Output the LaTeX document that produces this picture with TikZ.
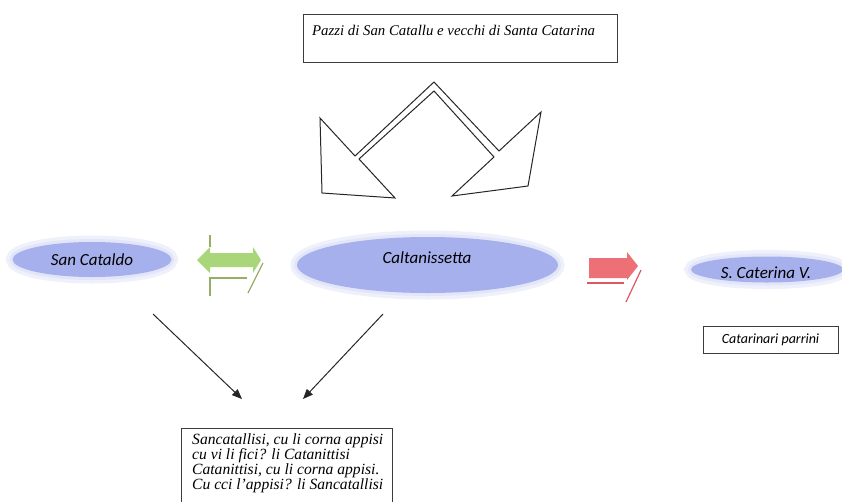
\documentclass[tikz,border=0pt]{standalone}
\usepackage{fontspec}
\setmainfont{Liberation Serif}
\newfontfamily\calibri{Carlito}
\usetikzlibrary{shapes.geometric,arrows.meta}
\definecolor{lav}{RGB}{166,176,236}
\definecolor{glowA}{RGB}{238,240,251}
\definecolor{glowB}{RGB}{226,230,248}
\definecolor{grnfill}{RGB}{170,214,122}
\definecolor{grnline}{RGB}{150,175,100}
\definecolor{redfill}{RGB}{236,112,118}
\definecolor{redline}{RGB}{222,86,96}
\definecolor{boxline}{RGB}{60,60,60}
\tikzset{
  city/.style={ellipse, fill=lav, inner sep=0pt,
    preaction={draw=glowA, line width=13pt},
    preaction={draw=glowB, line width=6pt}},
  citytext/.style={anchor=base, inner sep=0pt, font=\calibri\itshape\fontsize{17}{20}\selectfont},
  framebox/.style={draw=boxline, line width=0.9pt, inner sep=0pt},
  serif/.style={font=\itshape\fontsize{14.8}{14}\selectfont, inner sep=0pt, align=left},
  poemfont/.style={font=\itshape\fontsize{15.6}{14.6}\selectfont, inner sep=0pt},
  blackarrow/.style={draw=black!85, line width=1pt, -{Triangle[length=10pt,width=8pt]}},
}
\begin{document}
\begin{tikzpicture}[x=1pt,y=-1pt]
\useasboundingbox (0,0) rectangle (842,501);
\clip (0,0) rectangle (842,501);

% top box
\node[framebox, anchor=north west, minimum width=314pt, minimum height=48pt] (topbox) at (303,14) {};
\node[serif, anchor=base west] (toptext) at (312,35) {Pazzi di San Catallu e vecchi di Santa Catarina};

% bent double arrow
\draw[line width=1pt, black!85, fill=white, line join=miter]
  (395,198) -- (359,159) -- (434,91) -- (494,157) -- (452,196) -- (528,186)
  -- (541,112) -- (499,151) -- (434,82) -- (355,156) -- (320,118) -- (322,193) -- cycle;

% city ellipses
\node[city, minimum width=159pt, minimum height=35pt] (sc) at (92,259.5) {};
\node[citytext] (sctext) at (92,265) {San Cataldo};
\node[city, minimum width=261pt, minimum height=56pt] (cl) at (427.5,265) {};
\node[citytext] (cltext) at (427,263) {Caltanissetta};
\node[city, minimum width=152pt, minimum height=26pt] (scv) at (767,269.5) {};
\node[citytext] (scvtext) at (766,278) {S. Caterina V.};

% green double arrow
\fill[grnfill] (197,260) -- (210,247) -- (210,253) -- (253,253) -- (253,247) -- (261,260)
  -- (253,273) -- (253,267) -- (210,267) -- (210,273) -- cycle;
\draw[grnline, line width=1.2pt] (210,235) -- (210,247);
\draw[grnline, line width=1.2pt] (210,296) -- (210,278) -- (247,278);
\draw[grnline, line width=1.2pt] (263,263) -- (248,293);

% red arrow
\fill[redfill] (589,258) -- (627,258) -- (627,252) -- (638,266) -- (627,280) -- (627,278) -- (589,278) -- cycle;
\draw[redline, line width=1.2pt] (587,283) -- (624,283);
\draw[redline, line width=1.2pt] (641,270) -- (626,302);

% Catarinari parrini
\node[framebox, minimum width=135pt, minimum height=27pt, font=\calibri\itshape\fontsize{14}{16}\selectfont] (cp) at (770.5,339.5) {Catarinari parrini};

% black arrows
\coordinate (a1s) at (153,314);
\coordinate (a1e) at (242,399);
\coordinate (a2s) at (383,314);
\coordinate (a2e) at (303,399);
\draw[blackarrow] (a1s) -- (a1e);
\draw[blackarrow] (a2s) -- (a2e);

% bottom box
\node[framebox, anchor=north west, minimum width=211pt, minimum height=90pt] (poembox) at (181,428) {};
\node[poemfont, anchor=base west] (poem) at (192,444) {\begin{tabular}[t]{@{}l@{}}Sancatallisi, cu li corna appisi\\cu vi li fici? li Catanittisi\\Catanittisi, cu li corna appisi.\\Cu cci l'appisi? li Sancatallisi\end{tabular}};
\end{tikzpicture}
\end{document}
